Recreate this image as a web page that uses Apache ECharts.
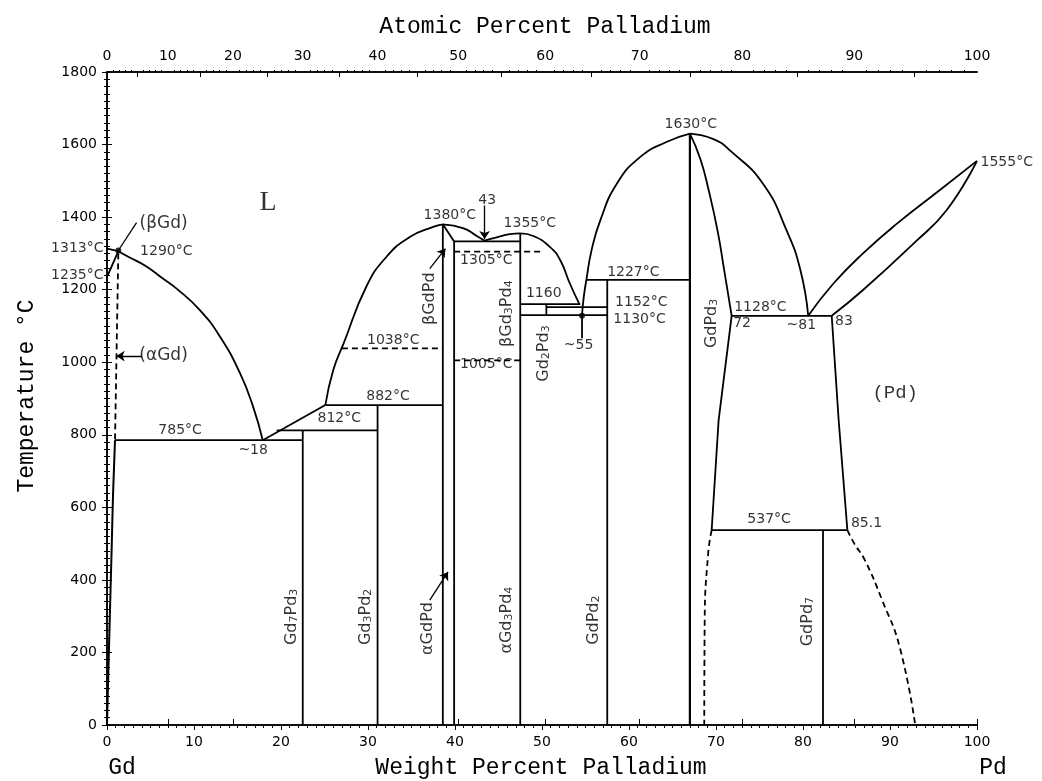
<!DOCTYPE html>
<html><head><meta charset="utf-8">
<script src="https://cdn.jsdelivr.net/npm/echarts@6/dist/echarts.min.js"></script>
<style>html,body{margin:0;padding:0;background:#fff}#c{width:1042px;height:781px}</style>
</head><body><div id="c"></div>
<script>
// ---------- axis tick labels ----------
const atomicTickLabels = [0,10,20,30,40,50,60,70,80,90,100];
const MASS_PD = 106.42, MASS_GD = 157.25;
function atToWt(a){ return 100*a*MASS_PD/(a*MASS_PD+(100-a)*MASS_GD); }

// ---------- phase boundaries (wt% Pd, °C) ----------
const betaGdUpper = [[0,1313],[1.3,1306]];
const betaGdLower = [[0,1235],[0.5,1262],[1.3,1306]];
const liqGdEut = [[1.3,1306],[2.5,1290],[4.4,1266],[6.3,1233],[8.0,1203],[10.7,1143],[13.0,1070],[15.3,969],[16.8,877],[17.9,785]];
const alphaGdSolvusHigh = [[1.3,1300],[0.92,785]];
const alphaGdSolvusLow = [[0.92,785],[0.7,640],[0.54,491],[0.23,216],[0,0]];
const eut785 = [[0.92,785],[22.5,785]];
const gd7pd3Line = [[22.5,0],[22.5,812]];
const liqEut882 = [[17.9,785],[25.1,882]];
const peri812 = [[19.5,812],[31.1,812]];
const gd3pd2Line = [[31.1,0],[31.1,882]];
const peri882 = [[25.1,882],[38.6,882]];
const liq882to1380 = [[25.1,882],[26.0,978],[27.2,1052],[29.8,1208],[32.1,1290],[34.8,1345],[37.5,1373],[38.6,1380]];
const dash1038 = [[27.0,1038],[38.6,1038]];
const gdPdLeft = [[38.6,0],[38.6,1380]];
const gdPdRight = [[39.9,0],[39.9,1333],[38.6,1380]];
const dash1005 = [[39.9,1005],[47.5,1005]];
const eut1333 = [[39.9,1333],[47.5,1333]];
const liq1380to43 = [[38.6,1380],[41.0,1369],[42.5,1348],[43.4,1335]];
const liq43to1355 = [[43.4,1335],[44.8,1344],[46.3,1353],[47.5,1355]];
const dash1305 = [[39.9,1305],[50.2,1305]];
const gd3pd4Line = [[47.5,0],[47.5,1355]];
const liq1355to1160 = [[47.5,1355],[49.0,1348],[50.9,1318],[52.1,1281],[53.2,1217],[54.3,1160]];
const peri1160 = [[47.5,1160],[54.4,1160]];
const gd2pd3Line = [[50.5,1130],[50.5,1160]];
const line1152 = [[50.5,1152],[57.5,1152]];
const eut1130 = [[47.5,1130],[57.5,1130]];
const drop55 = [[54.6,1130],[54.6,1066]];
const liqGdPd3Left = [[54.6,1130],[54.8,1180],[55.1,1227],[55.7,1309],[56.7,1391],[58.6,1492],[61.3,1566],[64.3,1607],[67.0,1630]];
const peri1227 = [[55.1,1227],[67.0,1227]];
const gdPd2Line = [[57.5,0],[57.5,1227]];
const gdPd3Line = [[67.0,0],[67.0,1630]];
const gdPd3RightUpper = [[67.0,1630],[68.2,1560],[69.2,1470],[70.2,1360],[70.9,1260],[71.8,1128]];
const gdPd3RightLower = [[71.8,1128],[70.3,840],[69.5,537]];
const gdPd3RightDashed = [[69.5,537],[69.1,473],[68.7,289],[68.65,0]];
const liqGdPd3Right = [[67.0,1630],[69.7,1615],[71.6,1584],[75.4,1492],[78.1,1364],[79.7,1254],[80.6,1128]];
const eut1128 = [[71.8,1128],[83.3,1128]];
const liqPd = [[80.6,1128],[83.5,1217],[86.9,1300],[90.8,1382],[95.7,1474],[100,1555]];
const solPd = [[83.3,1128],[86.9,1199],[92.7,1327],[96.5,1419],[100,1555]];
const solvusPd = [[83.3,1128],[84.1,840],[85.1,537]];
const solvusPdDashed = [[85.1,537],[85.9,500],[87.1,455],[89.1,344],[91.1,216],[92.9,0]];
const eutectoid537 = [[69.5,537],[85.1,537]];
const gdPd7Line = [[82.3,0],[82.3,537]];

// ---------- arrows / leaders ----------
const arrow43 = [[43.4,1432],[43.4,1340]];
const arrowBetaGdPd = [[37.1,1258],[38.9,1313]];
const arrowAlphaGdPd = [[37.1,344],[39.2,422]];
const arrowAlphaGd = [[4.0,1017],[1.1,1017]];
const leaderBetaGd = [[3.4,1385],[1.3,1308]];
const dots = [[1.3,1308],[54.6,1128]];

// ---------- text labels: [text, wt%, °C, anchor] ----------
const plainLabels = [
  ['1313°C',0,1313,'r'],['1235°C',0,1240,'r'],['1290°C',3.4,1306,'l'],
  ['785°C',8.4,811,'c'],['~18',16.8,758,'c'],['812°C',26.7,846,'c'],['882°C',32.3,907,'c'],
  ['1038°C',32.9,1061,'c'],['1380°C',39.4,1405,'c'],['43',43.7,1447,'c'],['1355°C',48.6,1382,'c'],
  ['1305°C',43.6,1281,'c'],['1005°C',43.6,995,'c'],['1160',50.2,1189,'c'],['1152°C',58.0,1164,'l'],
  ['1130°C',57.8,1118,'l'],['1227°C',60.5,1247,'c'],['~55',54.2,1047,'c'],['1630°C',67.1,1656,'c'],
  ['1128°C',75.1,1152,'c'],['72',73.0,1107,'c'],['~81',79.8,1102,'c'],['83',84.7,1114,'c'],
  ['1555°C',100,1552,'l'],['537°C',76.1,566,'c'],['85.1',87.3,557,'c']
];
const regionLabels = [['(βGd)',6.5,1382],['(αGd)',6.5,1017]];
const bigLabels = [['L',18.5,1441],['(Pd)',90.6,914]];
const phaseLabels = [
  ['Gd{7}Pd{3}',21.0,298],['Gd{3}Pd{2}',29.5,298],['αGdPd',36.7,266],['αGd{3}Pd{4}',45.7,289],
  ['GdPd{2}',55.7,289],['GdPd{7}',80.3,285],['βGdPd',36.9,1175],['βGd{3}Pd{4}',45.7,1134],
  ['Gd{2}Pd{3}',50.0,1024],['GdPd{3}',69.3,1107]
];

// ---------- build ----------
const chart = echarts.init(document.getElementById('c'), null, {renderer:'canvas'});
const BLACK = '#000';
function ln(data, o){ o=o||{}; return {type:'line', data, symbol:'none', silent:true, smooth:o.smooth||false, z:3,
  xAxisIndex:0, yAxisIndex:0,
  lineStyle:{color:BLACK, width:o.w||1.8, type:o.dash?[6,4]:'solid', cap:'butt'}}; }
function rich(s){ return s.replace(/\{(\d)\}/g,'}{s|$1}{n|').replace(/^/,'{n|')+'}'; }
const posMap = {c:'inside', l:'right', r:'left'};

const atMinor = [], atMid = [], atMajor = atomicTickLabels.map(atToWt);
for (let a=1;a<100;a++){ if (a%5!==0) atMinor.push(atToWt(a)); else if (a%10!==0) atMid.push(atToWt(a)); }

const S = {smooth:0.5};
const annoFont = {fontFamily:'DejaVu Sans', fontSize:14, color:BLACK};
const series = [
  ln(betaGdUpper), ln(betaGdLower,S), ln(liqGdEut,S), ln(alphaGdSolvusHigh,{dash:true}),
  ln(alphaGdSolvusLow,{smooth:0.5,w:2}), ln(eut785), ln(gd7pd3Line), ln(liqEut882), ln(peri812), ln(gd3pd2Line),
  ln(peri882), ln(liq882to1380,S), ln(dash1038,{dash:true}), ln(gdPdLeft), ln(gdPdRight),
  ln(dash1005,{dash:true}), ln(eut1333), ln(liq1380to43,S), ln(liq43to1355,S),
  ln(dash1305,{dash:true}), ln(gd3pd4Line), ln(liq1355to1160,S), ln(peri1160), ln(gd2pd3Line),
  ln(line1152), ln(eut1130), ln(drop55), ln(liqGdPd3Left,S), ln(peri1227), ln(gdPd2Line),
  ln(gdPd3Line,{w:2.2}), ln(gdPd3RightUpper,S), ln(gdPd3RightLower), ln(gdPd3RightDashed,{dash:true,smooth:0.5}),
  ln(liqGdPd3Right,S), ln(eut1128), ln(liqPd,S), ln(solPd,S), ln(solvusPd),
  ln(solvusPdDashed,{dash:true,smooth:0.5}), ln(eutectoid537), ln(gdPd7Line),
  {type:'lines', coordinateSystem:'cartesian2d', silent:true, z:4, symbol:['none','arrow'], symbolSize:8,
   lineStyle:{color:BLACK, width:1.3, opacity:1},
   data:[arrow43, arrowBetaGdPd, arrowAlphaGdPd, arrowAlphaGd].map(c=>({coords:c}))},
  {type:'lines', coordinateSystem:'cartesian2d', silent:true, z:4, symbol:['none','none'],
   lineStyle:{color:BLACK, width:1.3, opacity:1}, data:[{coords:leaderBetaGd}]},
  {type:'scatter', silent:true, z:5, symbolSize:6, itemStyle:{color:BLACK}, data:dots},
  {type:'scatter', silent:true, z:6, symbolSize:1, itemStyle:{color:'rgba(0,0,0,0)'},
   data: plainLabels.map(l=>({value:[l[1],l[2]], label:Object.assign({show:true, formatter:l[0], position:posMap[l[3]], distance:3}, annoFont)}))},
  {type:'scatter', silent:true, z:6, symbolSize:1, itemStyle:{color:'rgba(0,0,0,0)'},
   data: regionLabels.map(l=>({value:[l[1],l[2]], label:{show:true, formatter:l[0], position:'inside', fontFamily:'DejaVu Sans', fontSize:17, color:BLACK}}))},
  {type:'scatter', silent:true, z:6, symbolSize:1, itemStyle:{color:'rgba(0,0,0,0)'},
   data: bigLabels.map((l,i)=>({value:[l[1],l[2]], label:{show:true, formatter:l[0], position:'inside', fontFamily:i===0?'Liberation Serif':'Liberation Mono', fontSize:i===0?28:19, color:BLACK}}))},
  {type:'scatter', silent:true, z:6, symbolSize:1, itemStyle:{color:'rgba(0,0,0,0)'},
   data: phaseLabels.map(l=>({value:[l[1],l[2]], label:{show:true, formatter:rich(l[0]), position:'inside', rotate:90,
     rich:{n:{fontFamily:'DejaVu Sans', fontSize:16, lineHeight:20, color:BLACK, verticalAlign:'bottom'},
           s:{fontFamily:'DejaVu Sans', fontSize:11, lineHeight:14, color:BLACK, verticalAlign:'bottom', padding:[0,0,0,0]}}}}))}
];

const axisCommon = {
  axisLine:{show:true, lineStyle:{color:BLACK, width:1.5}},
  splitLine:{show:false}
};
const tickFont = {fontFamily:'DejaVu Sans', fontSize:14, color:BLACK, formatter:(v)=>String(v)};
const option = {
  animation:false,
  backgroundColor:'#fff',
  grid:{left:107, right:65, top:72, bottom:56},
  xAxis:[
    Object.assign({}, axisCommon, {type:'value', position:'bottom', min:0, max:100, interval:10,
      axisTick:{show:true, length:5, lineStyle:{color:BLACK}},
      minorTick:{show:true, splitNumber:10, length:3, lineStyle:{color:BLACK}},
      axisLabel:Object.assign({margin:10}, tickFont)}),
    Object.assign({}, axisCommon, {type:'value', position:'top', min:0, max:100,
      axisTick:{show:true, length:6, customValues:atMajor, lineStyle:{color:BLACK}},
      axisLabel:{fontFamily:'DejaVu Sans', fontSize:14, color:BLACK, margin:9, customValues:atMajor,
        formatter:(v)=>{let bi=0,bd=1e9; atMajor.forEach((w,i)=>{const d=Math.abs(w-v); if(d<bd){bd=d;bi=i;}}); return String(atomicTickLabels[bi]);}}}),
    Object.assign({}, axisCommon, {type:'value', position:'top', min:0, max:100,
      axisTick:{show:true, inside:true, length:5, customValues:atMid, lineStyle:{color:BLACK}},
      axisLabel:{show:false}}),
    Object.assign({}, axisCommon, {type:'value', position:'top', min:0, max:100,
      axisTick:{show:true, length:2, customValues:atMinor, lineStyle:{color:BLACK}},
      axisLabel:{show:false}})
  ],
  yAxis:[
    Object.assign({}, axisCommon, {type:'value', position:'left', min:0, max:1800, interval:200,
      axisTick:{show:true, length:5, lineStyle:{color:BLACK}},
      minorTick:{show:true, splitNumber:10, length:3, lineStyle:{color:BLACK}},
      axisLabel:Object.assign({margin:10}, tickFont)}),
    Object.assign({}, axisCommon, {type:'value', position:'right', min:0, max:1800, interval:200,
      axisTick:{show:true, length:5, lineStyle:{color:BLACK}},
      minorTick:{show:true, splitNumber:10, length:3, lineStyle:{color:BLACK}},
      axisLabel:{show:false}})
  ],
  graphic:[
    {type:'text', x:545, y:27, silent:true, style:{text:'Atomic Percent Palladium', font:'23px "Liberation Mono"', fill:BLACK, textAlign:'center', textVerticalAlign:'middle'}},
    {type:'text', x:541, y:768, silent:true, style:{text:'Weight Percent Palladium', font:'23px "Liberation Mono"', fill:BLACK, textAlign:'center', textVerticalAlign:'middle'}},
    {type:'text', x:122, y:768, silent:true, style:{text:'Gd', font:'23px "Liberation Mono"', fill:BLACK, textAlign:'center', textVerticalAlign:'middle'}},
    {type:'text', x:993, y:768, silent:true, style:{text:'Pd', font:'23px "Liberation Mono"', fill:BLACK, textAlign:'center', textVerticalAlign:'middle'}},
    {type:'text', x:27, y:396, rotation:Math.PI/2, silent:true, style:{text:'Temperature °C', font:'23px "Liberation Mono"', fill:BLACK, textAlign:'center', textVerticalAlign:'middle'}}
  ],
  series: series
};
chart.setOption(option);
</script></body></html>
